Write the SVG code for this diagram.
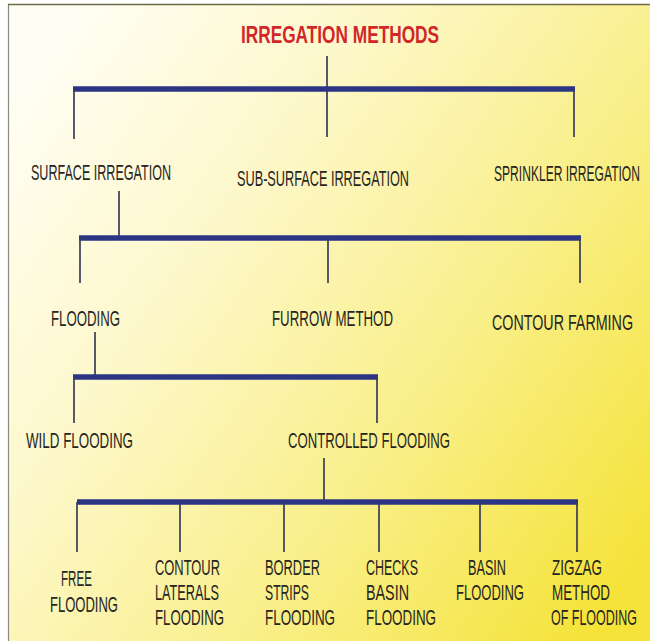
<svg xmlns="http://www.w3.org/2000/svg" width="650" height="641" viewBox="0 0 650 641">
  <defs>
    <linearGradient id="bg" x1="0" y1="0.15" x2="1" y2="0.85">
      <stop offset="0" stop-color="#fffef4"/>
      <stop offset="0.3" stop-color="#fdf8cc"/>
      <stop offset="0.65" stop-color="#f9ef8a"/>
      <stop offset="1" stop-color="#f5e33a"/>
    </linearGradient>
    <style>
      .lbl { font-family: "Liberation Sans", Arial, sans-serif; font-size: 22.5px; fill: #26251f; }
      .title { font-family: "Liberation Sans", Arial, sans-serif; font-size: 24px; font-weight: bold; fill: #d3262b; }
      .bar { stroke: #2c3584; stroke-width: 5.5; fill: none; stroke-linecap: butt; }
      .stem { stroke: #3a3d56; stroke-width: 1.7; fill: none; }
    </style>
  </defs>
  <rect x="0" y="0" width="650" height="641" fill="#ffffff"/>
  <rect x="8" y="4" width="642" height="637" fill="url(#bg)"/>
  <line x1="8.5" y1="4" x2="8.5" y2="641" stroke="#8a8a80" stroke-width="1.2"/>
  <line x1="8" y1="4.5" x2="650" y2="4.5" stroke="#6c6a45" stroke-width="1.5"/>

  <g id="connectors">
    <line class="stem" x1="327" y1="56" x2="327" y2="137"/>
    <line class="bar" x1="73" y1="89" x2="575" y2="89"/>
    <line class="stem" x1="74" y1="89" x2="74" y2="139"/>
    <line class="stem" x1="574" y1="89" x2="574" y2="137"/>

    <line class="stem" x1="119" y1="191" x2="119" y2="238"/>
    <line class="bar" x1="79" y1="238" x2="581" y2="238"/>
    <line class="stem" x1="80" y1="238" x2="80" y2="283"/>
    <line class="stem" x1="328" y1="238" x2="328" y2="283"/>
    <line class="stem" x1="580" y1="238" x2="580" y2="283"/>

    <line class="stem" x1="95" y1="332" x2="95" y2="377"/>
    <line class="bar" x1="73" y1="377" x2="378" y2="377"/>
    <line class="stem" x1="74" y1="377" x2="74" y2="423"/>
    <line class="stem" x1="377" y1="377" x2="377" y2="423"/>

    <line class="stem" x1="324" y1="458" x2="324" y2="502"/>
    <line class="bar" x1="77" y1="502" x2="578" y2="502"/>
    <line class="stem" x1="77" y1="502" x2="77" y2="552"/>
    <line class="stem" x1="180" y1="502" x2="180" y2="552"/>
    <line class="stem" x1="284" y1="502" x2="284" y2="552"/>
    <line class="stem" x1="379" y1="502" x2="379" y2="552"/>
    <line class="stem" x1="480" y1="502" x2="480" y2="552"/>
    <line class="stem" x1="577" y1="502" x2="577" y2="552"/>
  </g>

  <g id="irregation-methods"><text class="title" transform="translate(241 43) scale(0.57 1)" textLength="347.4" lengthAdjust="spacingAndGlyphs">IRREGATION METHODS</text></g>

  <g id="surface-irregation"><text class="lbl" transform="translate(31 180) scale(0.57 1)" textLength="245.6" lengthAdjust="spacingAndGlyphs">SURFACE IRREGATION</text></g>
  <g id="sub-surface-irregation"><text class="lbl" transform="translate(237 186) scale(0.57 1)" textLength="301.8" lengthAdjust="spacingAndGlyphs">SUB-SURFACE IRREGATION</text></g>
  <g id="sprinkler-irregation"><text class="lbl" transform="translate(494 181) scale(0.57 1)" textLength="256.1" lengthAdjust="spacingAndGlyphs">SPRINKLER IRREGATION</text></g>

  <g id="flooding"><text class="lbl" transform="translate(51 326) scale(0.57 1)" textLength="121.1" lengthAdjust="spacingAndGlyphs">FLOODING</text></g>
  <g id="furrow-method"><text class="lbl" transform="translate(272 326) scale(0.57 1)" textLength="212.3" lengthAdjust="spacingAndGlyphs">FURROW METHOD</text></g>
  <g id="contour-farming"><text class="lbl" transform="translate(492 330) scale(0.57 1)" textLength="247.4" lengthAdjust="spacingAndGlyphs">CONTOUR FARMING</text></g>

  <g id="wild-flooding"><text class="lbl" transform="translate(26 448) scale(0.57 1)" textLength="187.7" lengthAdjust="spacingAndGlyphs">WILD FLOODING</text></g>
  <g id="controlled-flooding"><text class="lbl" transform="translate(288 448) scale(0.57 1)" textLength="284.2" lengthAdjust="spacingAndGlyphs">CONTROLLED FLOODING</text></g>

  <g id="free-flooding">
    <text class="lbl" transform="translate(61 586) scale(0.57 1)" textLength="54.4" lengthAdjust="spacingAndGlyphs">FREE</text>
    <text class="lbl" transform="translate(50 612) scale(0.57 1)" textLength="119.3" lengthAdjust="spacingAndGlyphs">FLOODING</text>
  </g>
  <g id="contour-laterals-flooding">
    <text class="lbl" transform="translate(155 575) scale(0.57 1)" textLength="114" lengthAdjust="spacingAndGlyphs">CONTOUR</text>
    <text class="lbl" transform="translate(155 600) scale(0.57 1)" textLength="112.3" lengthAdjust="spacingAndGlyphs">LATERALS</text>
    <text class="lbl" transform="translate(155 625) scale(0.57 1)" textLength="121.1" lengthAdjust="spacingAndGlyphs">FLOODING</text>
  </g>
  <g id="border-strips-flooding">
    <text class="lbl" transform="translate(265 575) scale(0.57 1)" textLength="96.5" lengthAdjust="spacingAndGlyphs">BORDER</text>
    <text class="lbl" transform="translate(265 600) scale(0.57 1)" textLength="77.2" lengthAdjust="spacingAndGlyphs">STRIPS</text>
    <text class="lbl" transform="translate(265 625) scale(0.57 1)" textLength="122.8" lengthAdjust="spacingAndGlyphs">FLOODING</text>
  </g>
  <g id="checks-basin-flooding">
    <text class="lbl" transform="translate(366 575) scale(0.57 1)" textLength="91.2" lengthAdjust="spacingAndGlyphs">CHECKS</text>
    <text class="lbl" transform="translate(366 600) scale(0.57 1)" textLength="75.4" lengthAdjust="spacingAndGlyphs">BASIN</text>
    <text class="lbl" transform="translate(366 625) scale(0.57 1)" textLength="122.8" lengthAdjust="spacingAndGlyphs">FLOODING</text>
  </g>
  <g id="basin-flooding">
    <text class="lbl" transform="translate(468 575) scale(0.57 1)" textLength="66.7" lengthAdjust="spacingAndGlyphs">BASIN</text>
    <text class="lbl" transform="translate(456 600) scale(0.57 1)" textLength="119.3" lengthAdjust="spacingAndGlyphs">FLOODING</text>
  </g>
  <g id="zigzag-method-of-flooding">
    <text class="lbl" transform="translate(552 575) scale(0.57 1)" textLength="87.7" lengthAdjust="spacingAndGlyphs">ZIGZAG</text>
    <text class="lbl" transform="translate(552 600) scale(0.57 1)" textLength="101.8" lengthAdjust="spacingAndGlyphs">METHOD</text>
    <text class="lbl" transform="translate(551 625) scale(0.57 1)" textLength="150.9" lengthAdjust="spacingAndGlyphs">OF FLOODING</text>
  </g>
</svg>
